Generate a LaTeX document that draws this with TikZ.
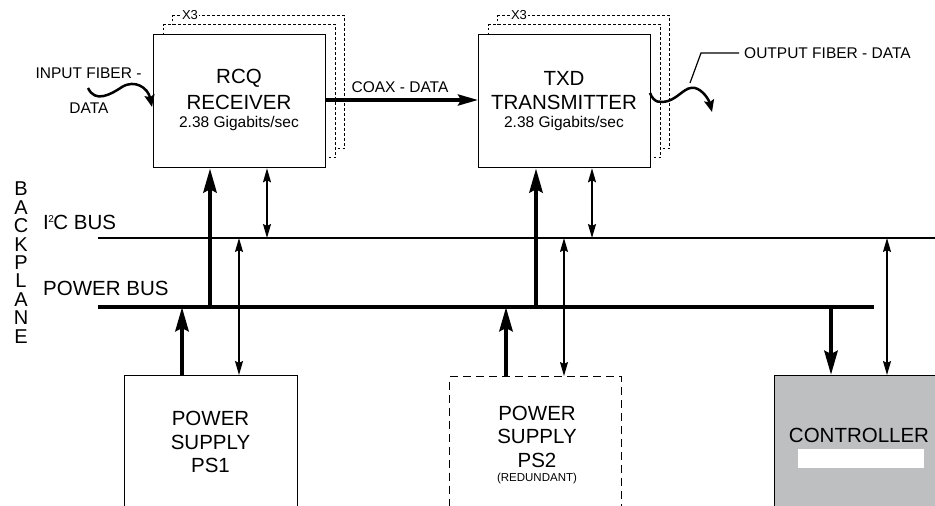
\documentclass[tikz,border=0pt]{standalone}
\usepackage{fontspec}
\setmainfont{Liberation Sans}
\usetikzlibrary{arrows.meta}
\definecolor{ctrlgray}{HTML}{BEBFC1}
\tikzset{
  box/.style={draw, line width=1.3pt, fill=white, inner sep=0pt, anchor=north west},
  shadowbox/.style={draw, line width=1.1pt, fill=white, dash pattern=on 2.5pt off 2.5pt, inner sep=0pt, anchor=north west, minimum width=172pt, minimum height=133pt},
  bigtxt/.style={inner sep=0pt, font=\fontsize{20.5}{24}\selectfont},
  midtxt/.style={inner sep=0pt, font=\fontsize{15.5}{18}\selectfont},
  smalltxt/.style={inner sep=0pt, font=\fontsize{11.5}{14}\selectfont},
  xlabel/.style={inner sep=1.5pt, fill=white, font=\fontsize{13}{14}\selectfont},
  pwr/.style={line width=4.5pt, -{Stealth[length=24pt, width=13pt, inset=3pt]}},
  sig/.style={line width=1.5pt, {Stealth[length=14pt, width=8pt, inset=2pt]}-{Stealth[length=14pt, width=8pt, inset=2pt]}},
  fiber/.style={line width=2.5pt, -{Stealth[length=12pt, width=10pt, inset=2pt]}},
}
\begin{document}
\begin{tikzpicture}[x=1pt,y=-1pt]
\useasboundingbox (0,0) rectangle (935,506);
\clip (0,0) rectangle (935,506);

% ---------- RCQ receiver with stacked copies ----------
\node[shadowbox] (rcqs2) at (172,15) {};
\node[xlabel] (rcqx3) at (190,15) {X3};
\node[shadowbox] (rcqs1) at (163,24) {};
\node[box, minimum width=172pt, minimum height=133pt] (rcq) at (153,34) {};
\node[bigtxt] (rcqt1) at (239,78) {RCQ};
\node[bigtxt] (rcqt2) at (239,102) {RECEIVER};
\node[midtxt] (rcqt3) at (239,123) {2.38 Gigabits/sec};

% ---------- TXD transmitter with stacked copies ----------
\node[shadowbox] (txds2) at (497,15) {};
\node[xlabel] (txdx3) at (519,15) {X3};
\node[shadowbox] (txds1) at (488,24) {};
\node[box, minimum width=172pt, minimum height=133pt] (txd) at (478,34) {};
\node[bigtxt] (txdt1) at (564,78) {TXD};
\node[bigtxt] (txdt2) at (564,102) {TRANSMITTER};
\node[midtxt] (txdt3) at (564,123) {2.38 Gigabits/sec};

% ---------- COAX link ----------
\coordinate (coaxS) at (325,100);
\coordinate (coaxE) at (478,100);
\draw[line width=3.5pt, -{Stealth[length=20pt, width=11pt, inset=3pt]}] (coaxS) -- (coaxE);
\node[midtxt] (coaxlbl) at (400,87) {COAX - DATA};

% ---------- input fiber ----------
\node[midtxt] (inlbl1) at (88.5,73) {INPUT FIBER -};
\node[midtxt] (inlbl2) at (89,108) {DATA};
\coordinate (inS) at (88,88);
\coordinate (inE) at (152,107);
\draw[fiber] (inS) .. controls (95,103) and (110,95) .. (122,87) .. controls (135,79) and (148,88) .. (inE);

% ---------- output fiber ----------
\coordinate (outS) at (650,93);
\coordinate (outE) at (712,112);
\draw[fiber] (outS) .. controls (654,103) and (660,103) .. (668,101) .. controls (680,97) and (685,86) .. (695,88) .. controls (703,90) and (709,100) .. (outE);
\node[midtxt, anchor=west] (outlbl) at (744,53) {OUTPUT FIBER - DATA};
\coordinate (lead1) at (690,83);
\coordinate (lead2) at (701,53);
\draw[line width=1.2pt] (lead1) -- (lead2) -- ([xshift=-5pt]outlbl.west);

% ---------- backplane ----------
\foreach \ch [count=\i from 0] in {B,A,C,K,P,L,A,N,E} {
  \node[inner sep=0pt, font=\fontsize{20}{20}\selectfont] (bp\i) at (21,189+18.4*\i) {\ch};
}
\node[bigtxt, anchor=west] (i2clbl) at (43,222) {I\kern-0.5pt\raisebox{7pt}{\fontsize{10}{10}\selectfont 2}\kern-0.5pt C BUS};
\node[bigtxt, anchor=west] (pwrlbl) at (43,288) {POWER BUS};
\coordinate (i2cL) at (98,238);
\coordinate (i2cR) at (935,238);
\draw[line width=1.1pt] (i2cL) -- (i2cR);
\coordinate (pbL) at (98,307);
\coordinate (pbR) at (874,307);
\draw[line width=4.5pt] (pbL) -- (pbR);

% ---------- lower boxes ----------
\node[box, minimum width=173pt, minimum height=145pt] (ps1) at (124,375) {};
\node[bigtxt] (ps1t1) at (210.5,418) {POWER};
\node[bigtxt] (ps1t2) at (210.5,442) {SUPPLY};
\node[bigtxt] (ps1t3) at (210.5,465) {PS1};

\node[box, dash pattern=on 8pt off 5pt, line width=1.2pt, minimum width=172pt, minimum height=145pt] (ps2) at (449,376) {};
\node[bigtxt] (ps2t1) at (537,413) {POWER};
\node[bigtxt] (ps2t2) at (537,436.5) {SUPPLY};
\node[bigtxt] (ps2t3) at (537,460) {PS2};
\node[smalltxt] (ps2t4) at (537,479) {(REDUNDANT)};

\node[box, fill=ctrlgray, minimum width=180pt, minimum height=145pt] (ctrl) at (774,375) {};
\node[bigtxt] (ctrlt) at (859,435) {CONTROLLER};
\node[fill=white, inner sep=0pt, minimum width=126pt, minimum height=19.5pt, anchor=north west] (ctrlw) at (798,448.5) {};

% ---------- bus taps ----------
\coordinate (pRCQ) at (210,307);
\coordinate (sRCQ) at (267,238);
\coordinate (pTXD) at (536,307);
\coordinate (sTXD) at (592,238);
\coordinate (pPS1) at (182,307);
\coordinate (sPS1) at (239,238);
\coordinate (pPS2) at (506,307);
\coordinate (sPS2) at (564,238);
\coordinate (pCTL) at (831,307);
\coordinate (sCTL) at (887,238);

\draw[pwr] (pRCQ) -- (pRCQ |- rcq.south);
\draw[sig] (sRCQ) -- (sRCQ |- rcq.south);
\draw[pwr] (pTXD) -- (pTXD |- txd.south);
\draw[sig] (sTXD) -- (sTXD |- txd.south);
\draw[pwr] (pPS1 |- ps1.north) -- (pPS1);
\draw[sig] (sPS1) -- (sPS1 |- ps1.north);
\draw[pwr] (pPS2 |- ps2.north) -- (pPS2);
\draw[sig] (sPS2) -- (sPS2 |- ps2.north);
\draw[pwr] (pCTL) -- (pCTL |- ctrl.north);
\draw[sig] (sCTL) -- (sCTL |- ctrl.north);
\end{tikzpicture}
\end{document}
